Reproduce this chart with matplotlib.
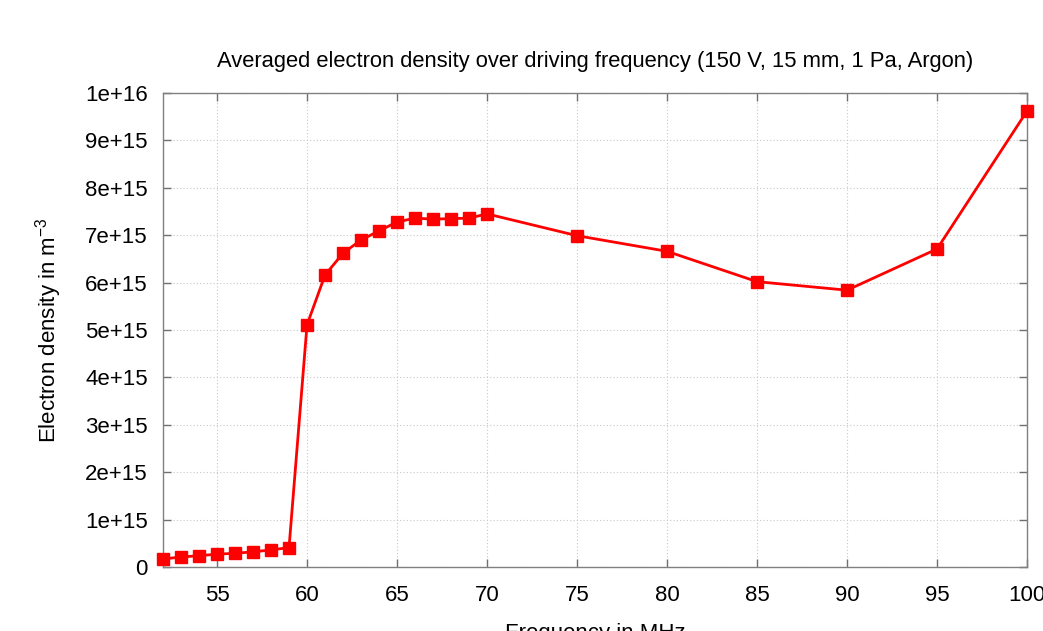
import matplotlib

matplotlib.use("Agg")
import matplotlib.pyplot as plt

plt.rcParams["font.family"] = ["Liberation Sans", "DejaVu Sans"]
plt.rcParams["mathtext.fontset"] = "custom"
plt.rcParams["mathtext.rm"] = "Liberation Sans"
plt.rcParams["mathtext.it"] = "Liberation Sans"
plt.rcParams["axes.unicode_minus"] = False

# averaged electron density vs. driving frequency (150 V, 15 mm, 1 Pa, Ar)
freq_mhz = [52, 53, 54, 55, 56, 57, 58, 59, 60, 61, 62, 63, 64, 65, 66, 67, 68, 69,
            70, 75, 80, 85, 90, 95, 100]
density = [0.17e15, 0.21e15, 0.24e15, 0.27e15, 0.29e15, 0.32e15, 0.36e15, 0.41e15,
           5.11e15, 6.16e15, 6.62e15, 6.90e15, 7.09e15, 7.28e15, 7.36e15, 7.34e15,
           7.35e15, 7.36e15, 7.45e15, 6.99e15, 6.66e15, 6.02e15, 5.84e15, 6.71e15,
           9.62e15]
x_ticks = [55, 60, 65, 70, 75, 80, 85, 90, 95, 100]
y_ticks = [i * 1e15 for i in range(11)]
y_labels = ["0"] + [f"{i}e+15" for i in range(1, 10)] + ["1e+16"]

fig = plt.figure(figsize=(10.43, 6.31), dpi=100)
ax = fig.add_axes([0.1563, 0.1014, 0.8284, 0.7512])

ax.plot(freq_mhz, density, color="red", lw=2, marker="s", ms=8, clip_on=False, zorder=3)

ax.set_xlim(52, 100)
ax.set_ylim(0, 1e16)
ax.set_xticks(x_ticks)
ax.set_yticks(y_ticks)
ax.set_yticklabels(y_labels)
ax.tick_params(direction="in", length=6, width=1, color="#707070", labelsize=16,
               top=True, right=True)
ax.tick_params(axis="x", pad=13)
ax.tick_params(axis="y", pad=11)
ax.grid(True, color="#c8c8c8", ls=(0, (1, 2)), lw=0.8)
for sp in ax.spines.values():
    sp.set_color("#808080")
    sp.set_linewidth(1)

ax.set_title("Averaged electron density over driving frequency (150 V, 15 mm, 1 Pa, Argon)",
             fontsize=15.8, pad=19)
ax.set_xlabel("Frequency in MHz", fontsize=16, labelpad=12)
ax.set_ylabel("Electron density in m$^{-3}$", fontsize=16, labelpad=15)

fig.savefig("out.png", dpi=100)
